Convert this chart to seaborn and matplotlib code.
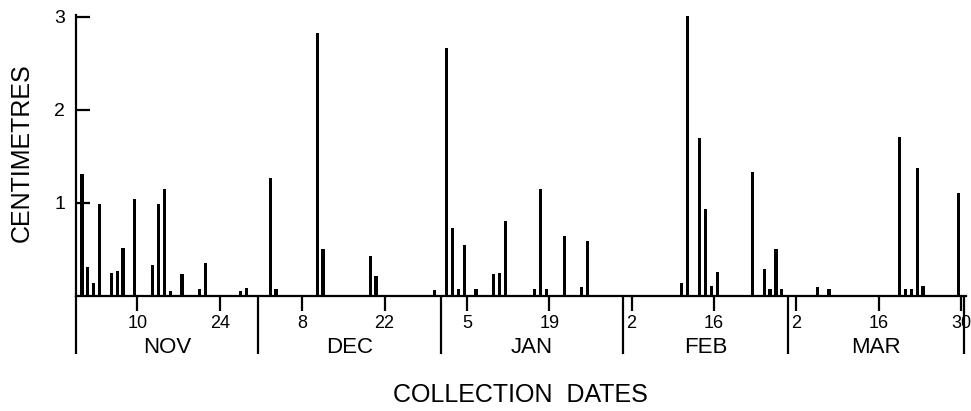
import seaborn as sns
import matplotlib.pyplot as plt
import matplotlib.transforms as mtransforms
import pandas as pd

# collection day (0 = 1 Nov) and catch in centimetres
days = [0, 1, 2, 3, 5, 6, 7, 9, 12, 13, 14, 15, 17, 20, 21, 27, 28, 32, 33,
        40, 41, 49, 50, 60, 62, 63, 64, 65, 67, 70, 71, 72, 77, 78, 79, 82,
        85, 86, 102, 103, 105, 106, 107, 108, 114, 116, 117, 118, 119, 125,
        127, 139, 140, 141, 142, 143, 149]
centimetres = [1.31, 0.31, 0.14, 0.99, 0.25, 0.27, 0.52, 1.04, 0.33, 0.99,
               1.15, 0.05, 0.24, 0.07, 0.35, 0.05, 0.09, 1.27, 0.08, 2.83,
               0.51, 0.43, 0.21, 0.06, 2.66, 0.73, 0.07, 0.55, 0.08, 0.24,
               0.25, 0.81, 0.08, 1.15, 0.08, 0.64, 0.10, 0.59, 0.14, 3.01,
               1.70, 0.93, 0.11, 0.26, 1.33, 0.29, 0.075, 0.50, 0.07, 0.10,
               0.07, 1.71, 0.075, 0.08, 1.38, 0.11, 1.11]

# tick days and labels under the axis
tick_days = [9, 23, 37, 51, 65, 79, 93, 107, 121, 135, 149]
tick_labels = ["10", "24", "8", "22", "5", "19", "2", "16", "2", "16", "30"]

months = ["NOV", "DEC", "JAN", "FEB", "MAR"]
month_starts = [-1, 30, 61, 92, 120, 150]

df = pd.DataFrame({"day": days, "cm": centimetres})

sns.set_style("white")
plt.rcParams["font.family"] = ["Liberation Sans", "DejaVu Sans"]
plt.rcParams["text.color"] = "black"
plt.rcParams["xtick.color"] = "black"
plt.rcParams["ytick.color"] = "black"
plt.rcParams["axes.labelcolor"] = "black"

fig = plt.figure(figsize=(9.71, 4.11), dpi=100)
ax = fig.add_axes([0.0783, 0.2798, 0.9165, 0.6837])

sns.barplot(data=df, x="day", y="cm", native_scale=True, width=0.55,
            color="black", saturation=1, linewidth=0, errorbar=None, ax=ax)

ax.set_xlim(-1, 150.3)
ax.set_ylim(0, 3.02)
sns.despine(ax=ax, top=True, right=True)
for side in ["left", "bottom"]:
    ax.spines[side].set_linewidth(1.6)
    ax.spines[side].set_color("black")

ax.set_yticks([1, 2, 3])
ax.set_yticklabels(["1", "2", "3"])
ax.tick_params(axis="y", direction="in", length=10, width=1.6, pad=8,
               labelsize=14, left=True, colors="black")

ax.set_xticks([d + 0.45 for d in tick_days])
ax.set_xticklabels(tick_labels)
ax.tick_params(axis="x", direction="out", length=11, width=1.6, pad=3,
               labelsize=13, bottom=True, colors="black")
ax.set_xlabel("")
ax.set_ylabel("")

# month separators and names below the axis
trans = mtransforms.blended_transform_factory(ax.transData, ax.transAxes)
for m in month_starts:
    ax.plot([m, m], [0, -0.205], color="black", lw=1.6, transform=trans,
            clip_on=False, solid_capstyle="butt")
for i, name in enumerate(months):
    mid = (month_starts[i] + month_starts[i + 1]) / 2
    ax.text(mid, -0.182, name, transform=trans, ha="center", va="center",
            fontsize=16, color="black")

fig.text(22 / 971, 1 - 153 / 411, "CENTIMETRES", rotation=90,
         ha="center", va="center", fontsize=18, color="black")
fig.text(520 / 971, 1 - 395 / 411, "COLLECTION  DATES",
         ha="center", va="center", fontsize=18, color="black")

fig.savefig("out.png", dpi=100)
